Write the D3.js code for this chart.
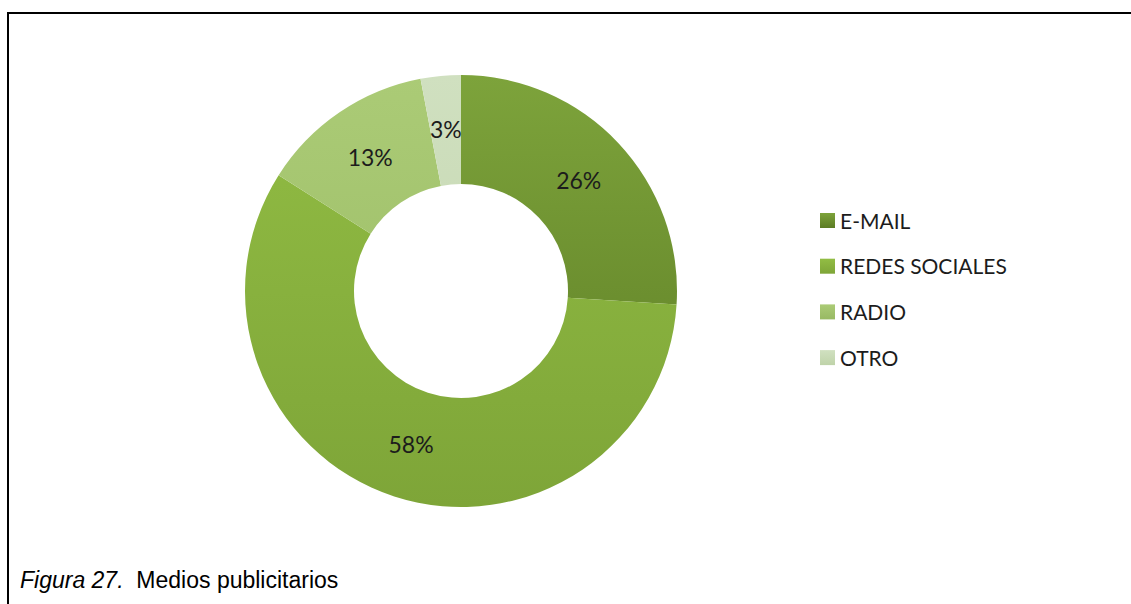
<!DOCTYPE html>
<html>
<head>
<meta charset="utf-8">
<script src="https://cdn.jsdelivr.net/npm/d3@7"></script>
<style>
  html, body { margin: 0; padding: 0; background: #fff; }
  svg { display: block; }
</style>
</head>
<body>
<svg id="chart" width="1131" height="604"></svg>
<script>
// Advertising channels share (%)
const categories = ["E-MAIL", "REDES SOCIALES", "RADIO", "OTRO"];
const values = [26, 58, 13, 3];
const labels = ["26%", "58%", "13%", "3%"];
// gradient stops per slice: [top, bottom]
const colorsTop = ["#7da33b", "#92bd44", "#abcb76", "#d0e0c0"];
const colorsBottom = ["#5c7c24", "#7ea538", "#98b963", "#bfd3a9"];

const svg = d3.select("#chart");
const W = 1131, H = 604;

// frame: top and left rules
svg.append("line").attr("x1", 7).attr("x2", W).attr("y1", 13).attr("y2", 13)
  .attr("stroke", "#000").attr("stroke-width", 2);
svg.append("line").attr("x1", 8).attr("x2", 8).attr("y1", 12).attr("y2", H)
  .attr("stroke", "#000").attr("stroke-width", 2);

const cx = 461, cy = 291, rOuter = 216, rInner = 107;

const defs = svg.append("defs");
categories.forEach((c, i) => {
  const g = defs.append("linearGradient")
    .attr("id", "grad" + i)
    .attr("gradientUnits", "userSpaceOnUse")
    .attr("x1", 0).attr("y1", cy - rOuter).attr("x2", 0).attr("y2", cy + rOuter);
  g.append("stop").attr("offset", "0%").attr("stop-color", colorsTop[i]);
  g.append("stop").attr("offset", "100%").attr("stop-color", colorsBottom[i]);
});

const pie = d3.pie().value(d => d).sort(null);
const arcs = pie(values);
const arc = d3.arc().innerRadius(rInner).outerRadius(rOuter);
const labelArc = d3.arc().innerRadius((rInner + rOuter) / 2).outerRadius((rInner + rOuter) / 2);

const g = svg.append("g").attr("transform", `translate(${cx},${cy})`);
const gradG = svg.append("g");

g.selectAll("path.slice")
  .data(arcs)
  .join("path")
  .attr("class", "slice")
  .attr("d", arc)
  .attr("fill", (d, i) => `url(#grad${i})`)
  .attr("transform", `translate(0,0)`);

// gradients are in page space; shift them into the group's frame
defs.selectAll("linearGradient")
  .attr("y1", -rOuter).attr("y2", rOuter);

g.selectAll("text.lbl")
  .data(arcs)
  .join("text")
  .attr("class", "lbl")
  .attr("transform", d => `translate(${labelArc.centroid(d)})`)
  .attr("text-anchor", "middle")
  .attr("dy", "0.36em")
  .attr("font-family", "Lato, 'Open Sans', sans-serif")
  .attr("font-size", 23)
  .attr("fill", "#1c1c1c")
  .text((d, i) => labels[i]);

// legend
const legend = svg.append("g").attr("transform", "translate(820,213)");
const rowGap = 45.7;
categories.forEach((c, i) => {
  const row = legend.append("g").attr("transform", `translate(0,${i * rowGap})`);
  const lg = defs.append("linearGradient").attr("id", "lg" + i)
    .attr("x1", 0).attr("y1", 0).attr("x2", 0).attr("y2", 1);
  lg.append("stop").attr("offset", "0%").attr("stop-color", colorsTop[i]);
  lg.append("stop").attr("offset", "100%").attr("stop-color", colorsBottom[i]);
  row.append("rect").attr("width", 15).attr("height", 15).attr("fill", `url(#lg${i})`);
  row.append("text")
    .attr("x", 20).attr("y", 15.5)
    .attr("font-family", "Lato, 'Open Sans', sans-serif")
    .attr("font-size", 21)
    .attr("fill", "#1c1c1c")
    .text(c);
});

// caption
const cap = svg.append("text")
  .attr("x", 20).attr("y", 588)
  .attr("font-family", "'Liberation Sans', Arial, sans-serif")
  .attr("font-size", 23)
  .attr("fill", "#000")
  .attr("xml:space", "preserve");
cap.append("tspan").attr("font-style", "italic").text("Figura 27.");
cap.append("tspan").text("\u00a0 Medios publicitarios");
</script>
</body>
</html>
